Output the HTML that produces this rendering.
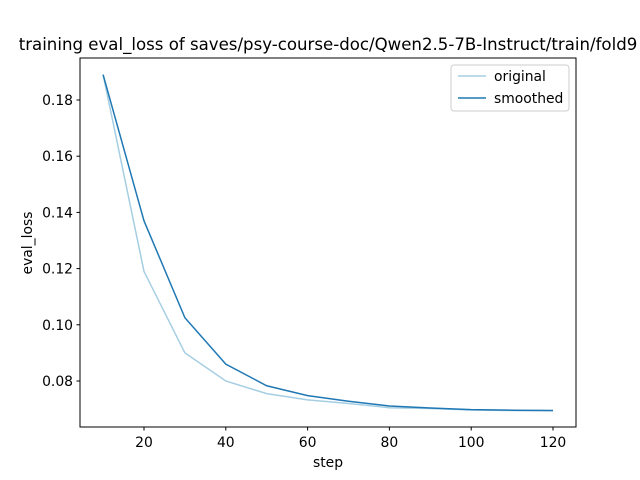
<!DOCTYPE html>
<html><head><meta charset="utf-8"><style>
body{margin:0;background:#fff;}
svg{display:block;font-family:"DejaVu Sans","Liberation Sans",sans-serif;}
</style></head><body>
<svg id="chart" width="640" height="480">
<rect width="640" height="480" fill="#fff"/>
<text x="328" y="50" font-size="16.6" text-anchor="middle">training eval_loss of saves/psy-course-doc/Qwen2.5-7B-Instruct/train/fold9</text>
<g id="ticks"></g>
<g id="series"></g>
<rect x="80" y="58" width="496" height="369" fill="none" stroke="#000" stroke-width="1"/>
<text x="328" y="467" font-size="13.9" text-anchor="middle">step</text>
<text x="32" y="243" font-size="13.9" text-anchor="middle" transform="rotate(-90 32 243)">eval_loss</text>
<g>
<rect x="451" y="65" width="118" height="46" rx="3" fill="#fff" stroke="#ccc"/>
<line x1="458" y1="76" x2="486" y2="76" stroke="#a6cee3" stroke-width="1.5"/>
<text x="494" y="81" font-size="13.9">original</text>
<line x1="458" y1="98" x2="486" y2="98" stroke="#1f78b4" stroke-width="1.5"/>
<text x="494" y="103" font-size="13.9">smoothed</text>
</g>
</svg>
<script>
const steps=[10,20,30,40,50,60,70,80,90,100,110,120];
const original=[0.189,0.119,0.090,0.080,0.0755,0.0733,0.072,0.0705,0.0702,0.0697,0.0695,0.0694];
const smoothed=[0.189,0.137,0.1025,0.086,0.0783,0.0748,0.0728,0.0711,0.0704,0.0698,0.0696,0.0695];
const xTicks=[20,40,60,80,100,120];
const yTicks=[0.08,0.10,0.12,0.14,0.16,0.18];
const NS="http://www.w3.org/2000/svg";
const x=v=>103.1+(v-10)*4.09;
const y=v=>381-(v-0.08)*2810;
const tg=document.getElementById('ticks');
function el(t,a,p){const e=document.createElementNS(NS,t);for(const k in a)e.setAttribute(k,a[k]);p.appendChild(e);return e;}
xTicks.forEach(t=>{
 const l=el('line',{x1:x(t),x2:x(t),y1:427,y2:430.5,stroke:'#000'},tg);
 
 
 const s=el('text',{x:x(t),y:447,'font-size':13.9,'text-anchor':'middle'},tg);
 s.textContent=t;
 
 
});
yTicks.forEach(t=>{
 const l=el('line',{x1:76.5,x2:80,y1:y(t),y2:y(t),stroke:'#000'},tg);
 
 
 const s=el('text',{x:73,y:y(t)+5,'font-size':13.9,'text-anchor':'end'},tg);
 s.textContent=t.toFixed(2);
 
 
});
const sg=document.getElementById('series');
[[original,'#a6cee3','original-line'],[smoothed,'#1f78b4','smoothed-line']].forEach(([d,c,n])=>{
 const p=el('polyline',{points:steps.map((s,i)=>x(s)+','+y(d[i])).join(' '),fill:'none',stroke:c,'stroke-width':1.5},sg);
 
 
});
</script>
</body></html>
